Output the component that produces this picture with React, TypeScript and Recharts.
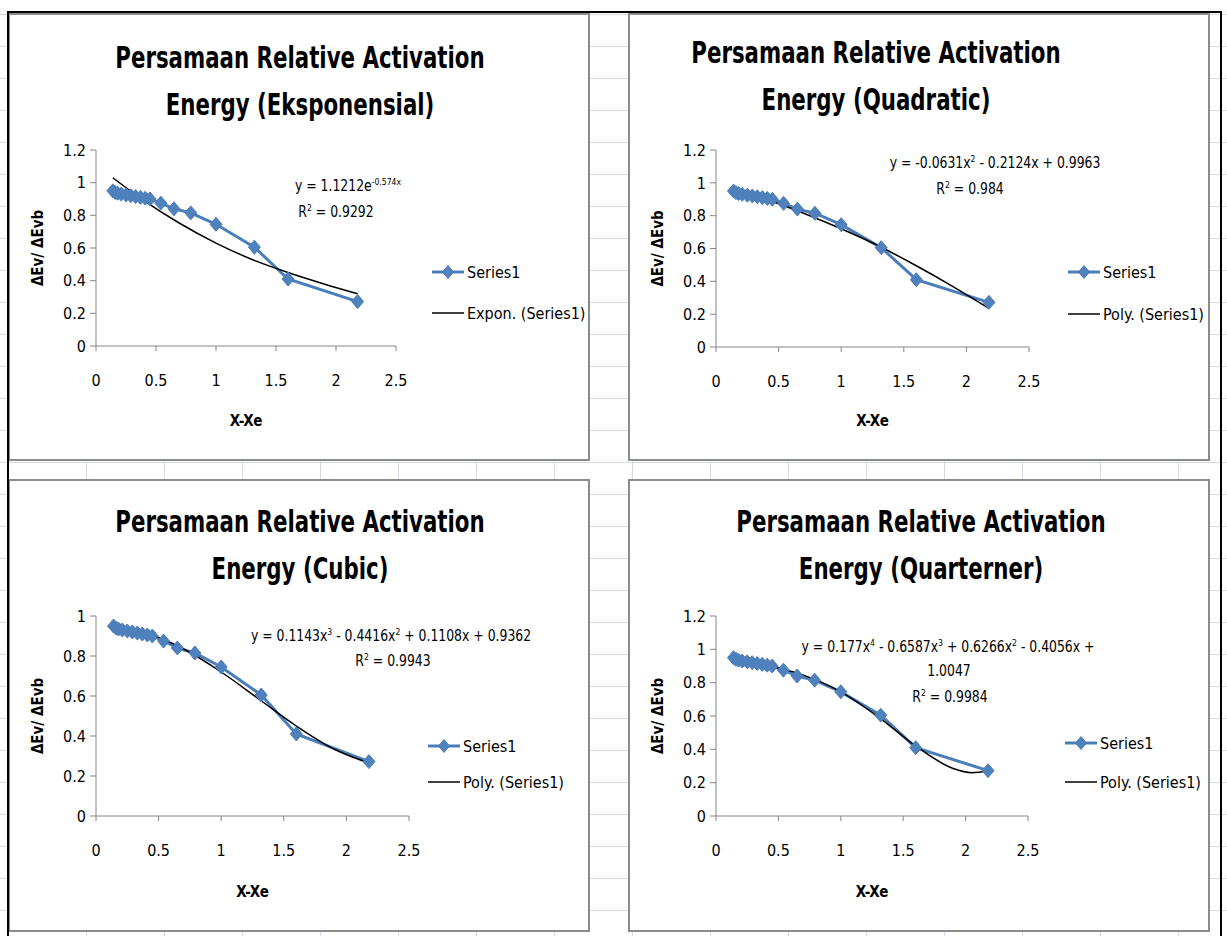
import React from "react";
import { LineChart, Line, XAxis, YAxis, Label } from "recharts";

const FONT = "'Liberation Sans Narrow', 'DejaVu Sans Condensed', 'Open Sans', sans-serif";

// measured points (X-Xe vs dEv/dEvb)
const xValues = [0.14, 0.16, 0.18, 0.21, 0.25, 0.29, 0.33, 0.37, 0.41, 0.45, 0.54, 0.65, 0.79, 1.0, 1.32, 1.6, 2.18];
const yValues = [0.95, 0.94, 0.935, 0.93, 0.925, 0.92, 0.915, 0.91, 0.905, 0.9, 0.875, 0.84, 0.815, 0.745, 0.605, 0.41, 0.272];

const xTicks = [0, 0.5, 1, 1.5, 2, 2.5];
const yTicksTall = [0, 0.2, 0.4, 0.6, 0.8, 1, 1.2];
const yTicksShort = [0, 0.2, 0.4, 0.6, 0.8, 1];

// trendline values
const trendX = [0.14, 0.4, 0.7, 1.0, 1.3, 1.6, 1.9, 2.18];
const expTrend = [1.03, 0.89, 0.75, 0.63, 0.53, 0.45, 0.38, 0.32];
const quadTrend = [0.965, 0.9, 0.815, 0.72, 0.615, 0.495, 0.365, 0.235];
const cubicTrend = [0.945, 0.915, 0.835, 0.72, 0.585, 0.45, 0.335, 0.265];
const quartX = [0.14, 0.4, 0.7, 1.0, 1.3, 1.6, 1.9, 2.05, 2.18];
const quartTrend = [0.955, 0.905, 0.845, 0.745, 0.595, 0.42, 0.285, 0.26, 0.27];

const seriesData = xValues.map((x, i) => ({ x, y: yValues[i] }));
const toRows = (xs: number[], ys: number[]) => xs.map((x, i) => ({ x, y: ys[i] }));

const BLUE = "#4A7EBB";
const PLOT_LEFT = 88;
const PLOT_TOP = 137;

const sup = (s: string) => <sup style={{ fontSize: "0.62em", verticalAlign: "0.55em", lineHeight: 0 }}>{s}</sup>;

const renderDiamond = (props: any) => {
  const { cx, cy, index } = props;
  if (cx == null || cy == null) return <g key={`d${index}`} />;
  return (
    <path
      key={`d${index}`}
      d={`M${cx},${cy - 7}L${cx + 6},${cy}L${cx},${cy + 7}L${cx - 6},${cy}Z`}
      fill="#4F81BD"
      stroke={BLUE}
      strokeWidth={1}
    />
  );
};

type PanelSpec = {
  left: number;
  top: number;
  width: number;
  height: number;
  plotW: number;
  plotH: number;
  yMax: number;
  yTicks: number[];
  titleLine2: string;
  titleX: number;
  titleY: number;
  trend: { x: number; y: number }[];
  trendName: string;
  eq: { content: React.ReactNode; x: number; y: number }[];
  legendX: number;
  legendY: number[];
};

const panels: PanelSpec[] = [
  {
    left: 8, top: 13, width: 582, height: 448, plotW: 300, plotH: 196,
    yMax: 1.2, yTicks: yTicksTall, titleLine2: "Energy (Eksponensial)", titleX: 292, titleY: 45,
    trend: toRows(trendX, expTrend), trendName: "Expon. (Series1)",
    eq: [
      { content: <>y = 1.1212e{sup("-0.574x")}</>, x: 340, y: 173 },
      { content: <>R{sup("2")} = 0.9292</>, x: 328, y: 199 },
    ],
    legendX: 424, legendY: [259, 300],
  },
  {
    left: 628, top: 13, width: 582, height: 448, plotW: 313, plotH: 197,
    yMax: 1.2, yTicks: yTicksTall, titleLine2: "Energy (Quadratic)", titleX: 248, titleY: 40,
    trend: toRows(trendX, quadTrend), trendName: "Poly. (Series1)",
    eq: [
      { content: <>y = -0.0631x{sup("2")} - 0.2124x + 0.9963</>, x: 367, y: 150 },
      { content: <>R{sup("2")} = 0.984</>, x: 342, y: 176 },
    ],
    legendX: 440, legendY: [259, 301],
  },
  {
    left: 8, top: 479, width: 582, height: 453, plotW: 313, plotH: 200,
    yMax: 1, yTicks: yTicksShort, titleLine2: "Energy (Cubic)", titleX: 292, titleY: 43,
    trend: toRows(trendX, cubicTrend), trendName: "Poly. (Series1)",
    eq: [
      { content: <>y = 0.1143x{sup("3")} - 0.4416x{sup("2")} + 0.1108x + 0.9362</>, x: 383, y: 157 },
      { content: <>R{sup("2")} = 0.9943</>, x: 385, y: 182 },
    ],
    legendX: 420, legendY: [267, 303],
  },
  {
    left: 628, top: 479, width: 582, height: 453, plotW: 312, plotH: 200,
    yMax: 1.2, yTicks: yTicksTall, titleLine2: "Energy (Quarterner)", titleX: 293, titleY: 43,
    trend: toRows(quartX, quartTrend), trendName: "Poly. (Series1)",
    eq: [
      { content: <>y = 0.177x{sup("4")} - 0.6587x{sup("3")} + 0.6266x{sup("2")} - 0.4056x +</>, x: 320, y: 168 },
      { content: <>1.0047</>, x: 321, y: 192 },
      { content: <>R{sup("2")} = 0.9984</>, x: 322, y: 218 },
    ],
    legendX: 437, legendY: [264, 303],
  },
];

const tickStyle = { fontSize: 16, fill: "#000", fontFamily: FONT };

function Panel({ p }: { p: PanelSpec }) {
  const xAxisH = p.height - PLOT_TOP - p.plotH;
  return (
    <div
      style={{
        position: "absolute", left: p.left, top: p.top, width: p.width, height: p.height,
        background: "#fff", boxShadow: "inset 0 0 0 2px #8c8c8c", fontFamily: FONT, color: "#000",
      }}
    >
      <LineChart
        width={p.width}
        height={p.height}
        margin={{ top: PLOT_TOP, right: p.width - PLOT_LEFT - p.plotW, bottom: 0, left: 0 }}
      >
        <XAxis
          type="number" dataKey="x" domain={[0, 2.5]} ticks={xTicks} interval={0}
          height={xAxisH} stroke="#868686" tickSize={5} tickMargin={24} tick={tickStyle}
        >
          <Label value="X-Xe" position="insideBottom" offset={35}
            style={{ fontWeight: 700, fontSize: 15, fill: "#000", fontFamily: FONT }} />
        </XAxis>
        <YAxis
          type="number" domain={[0, p.yMax]} ticks={p.yTicks} interval={0}
          width={PLOT_LEFT} stroke="#868686" tickSize={6} tickMargin={4} tick={tickStyle}
        >
          <Label value="ΔEv/ ΔEvb" angle={-90} position="insideLeft" offset={30}
            style={{ textAnchor: "middle", fontWeight: 700, fontSize: 15, fill: "#000", fontFamily: FONT }} />
        </YAxis>
        <Line data={seriesData} dataKey="y" stroke={BLUE} strokeWidth={3}
          dot={renderDiamond} activeDot={false} isAnimationActive={false} />
        <Line data={p.trend} dataKey="y" type="monotone" stroke="#000" strokeWidth={1.5}
          dot={false} activeDot={false} isAnimationActive={false} />
      </LineChart>

      {["Persamaan Relative Activation", p.titleLine2].map((t, i) => (
        <div key={t} style={{
          position: "absolute", left: p.titleX, top: p.titleY + i * 47,
          transform: "translate(-50%, -50%) scaleX(0.79)",
          whiteSpace: "nowrap", fontSize: 30, fontWeight: 700, lineHeight: 1,
        }}>{t}</div>
      ))}

      {p.eq.map((e, i) => (
        <div key={i} style={{
          position: "absolute", left: e.x, top: e.y, transform: "translate(-50%, -50%) scaleX(0.92)",
          whiteSpace: "nowrap", fontSize: 15, lineHeight: 1,
        }}>{e.content}</div>
      ))}

      {["Series1", p.trendName].map((name, i) => (
        <div key={name} style={{
          position: "absolute", left: p.legendX, top: p.legendY[i] - 10, height: 20,
          display: "flex", alignItems: "center", whiteSpace: "nowrap", fontSize: 16,
        }}>
          <svg width={32} height={16} style={{ marginRight: 3 }}>
            {i === 0 ? (
              <>
                <line x1={0} y1={8} x2={32} y2={8} stroke={BLUE} strokeWidth={3} />
                <path d="M16,1.5L21.5,8L16,14.5L10.5,8Z" fill="#4F81BD" stroke={BLUE} />
              </>
            ) : (
              <line x1={0} y1={8} x2={32} y2={8} stroke="#000" strokeWidth={1.5} />
            )}
          </svg>
          <span>{name}</span>
        </div>
      ))}
    </div>
  );
}

export default function App() {
  return (
    <div
      style={{
        position: "absolute", left: 0, top: 0, width: 1227, height: 936, overflow: "hidden",
        background: "#fff",
        backgroundImage:
          "linear-gradient(to right, #d4dbe6 1px, transparent 1px), linear-gradient(to bottom, #d4dbe6 1px, transparent 1px)",
        backgroundSize: "78px 32px",
        backgroundPosition: "8px 14px",
      }}
    >
      <div style={{ position: "absolute", left: 0, top: 0, width: 1227, height: 11, background: "#fff" }} />
      {panels.map((p, i) => (
        <Panel key={i} p={p} />
      ))}
      <div style={{
        position: "absolute", left: 7, top: 11, width: 1211, height: 940,
        borderTop: "2px solid #000", borderLeft: "2px solid #000", borderRight: "2px solid #000",
        pointerEvents: "none",
      }} />
    </div>
  );
}
